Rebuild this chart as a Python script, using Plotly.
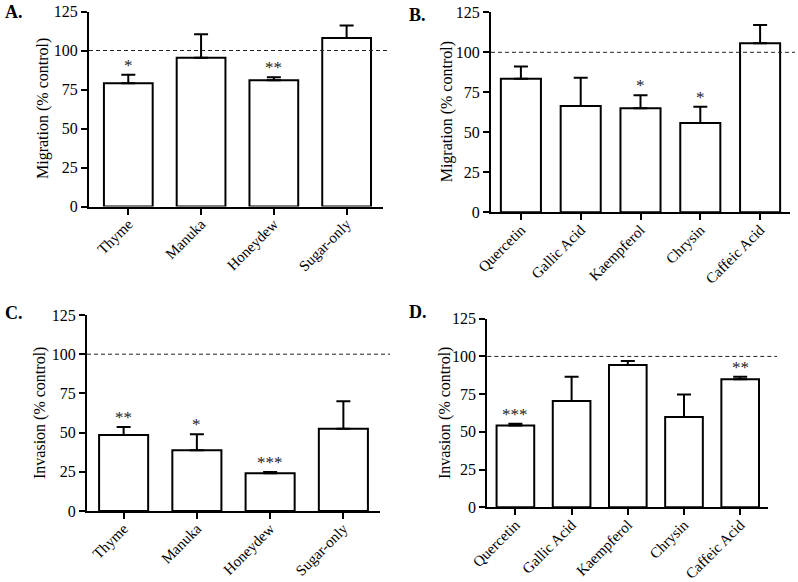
import plotly.graph_objects as go

# ---------------- data ----------------
honey_cats = ["Thyme", "Manuka", "Honeydew", "Sugar-only"]
phenol_cats = ["Quercetin", "Gallic Acid", "Kaempferol", "Chrysin", "Caffeic Acid"]

mig_honey = [79.0, 95.3, 80.9, 108.0]
mig_honey_err = [5.5, 15.1, 1.9, 8.1]
mig_honey_sig = ["*", "", "**", ""]

mig_phenol = [83.5, 66.4, 65.0, 55.8, 105.6]
mig_phenol_err = [7.7, 17.7, 8.1, 10.2, 11.4]
mig_phenol_sig = ["", "", "*", "*", ""]

inv_honey = [48.5, 38.7, 24.0, 52.5]
inv_honey_err = [5.1, 10.2, 0.9, 17.5]
inv_honey_sig = ["**", "*", "***", ""]

inv_phenol = [54.2, 70.5, 94.3, 59.9, 84.8]
inv_phenol_err = [1.1, 16.1, 2.6, 14.8, 1.8]
inv_phenol_sig = ["***", "", "", "", "**"]

control_level = 100
y_ticks = [0, 25, 50, 75, 100, 125]

W, H = 798, 582
FONT = "Liberation Serif, Times New Roman, serif"

panels = [
    dict(lab="A.", cats=honey_cats, vals=mig_honey, err=mig_honey_err, sig=mig_honey_sig,
         title="Migration (% control)", xdom=(89, 383), ydom=(206.5, 11.5), xr=(-0.54, 3.5),
         dash_end=390, lab_xy=(3, 12), title_x=43),
    dict(lab="B.", cats=phenol_cats, vals=mig_phenol, err=mig_phenol_err, sig=mig_phenol_sig,
         title="Migration (% control)", xdom=(491, 790), ydom=(212.3, 12.3), xr=(-0.5, 4.5),
         dash_end=795, lab_xy=(407, 15), title_x=447),
    dict(lab="C.", cats=honey_cats, vals=inv_honey, err=inv_honey_err, sig=inv_honey_sig,
         title="Invasion (% control)", xdom=(87, 380), ydom=(511, 315), xr=(-0.5, 3.5),
         dash_end=390, lab_xy=(3, 313), title_x=40),
    dict(lab="D.", cats=phenol_cats, vals=inv_phenol, err=inv_phenol_err, sig=inv_phenol_sig,
         title="Invasion (% control)", xdom=(487.3, 768.3), ydom=(507.3, 318.7), xr=(-0.5, 4.5),
         dash_end=777, lab_xy=(407, 312), title_x=445),
]


def px(x):
    return x / W


def py(y):
    return 1 - y / H


fig = go.Figure()
annotations = []
shapes = []
layout = {}

for i, p in enumerate(panels, start=1):
    xa = "x" if i == 1 else f"x{i}"
    ya = "y" if i == 1 else f"y{i}"
    xkey = "xaxis" if i == 1 else f"xaxis{i}"
    ykey = "yaxis" if i == 1 else f"yaxis{i}"
    fig.add_trace(go.Bar(
        x=p["cats"], y=p["vals"], xaxis=xa, yaxis=ya, width=0.67,
        marker=dict(color="white", line=dict(color="black", width=2)),
        error_y=dict(type="data", array=p["err"], arrayminus=[0] * len(p["err"]),
                     symmetric=False, color="black", thickness=2, width=7),
        showlegend=False, hoverinfo="x+y",
    ))
    x0, x1 = px(p["xdom"][0]), px(p["xdom"][1])
    y0, y1 = py(p["ydom"][0]), py(p["ydom"][1])
    layout[xkey] = dict(
        domain=[x0, x1], anchor=ya, range=list(p["xr"]), type="category",
        showline=True, linecolor="black", linewidth=2, ticks="outside",
        ticklen=6, tickwidth=2, tickcolor="black", tickangle=-45,
        ticklabelstandoff=-5,
        tickfont=dict(family=FONT, size=15, color="black"), showgrid=False,
        zeroline=False, fixedrange=True, automargin=False,
    )
    layout[ykey] = dict(
        domain=[y0, y1], anchor=xa, range=[0, 125], tickvals=y_ticks,
        showline=True, linecolor="black", linewidth=2, ticks="outside",
        ticklen=6, tickwidth=2, tickcolor="black",
        tickfont=dict(family=FONT, size=16, color="black"), showgrid=False,
        zeroline=False, fixedrange=True, automargin=False,
    )
    # y-axis title as rotated text
    annotations.append(dict(
        text=p["title"], xref="paper", yref="paper", x=px(p["title_x"]), y=(y0 + y1) / 2,
        textangle=-90, showarrow=False, xanchor="center", yanchor="middle",
        font=dict(family=FONT, size=16, color="black"),
    ))
    # panel label
    annotations.append(dict(
        text="<b>" + p["lab"] + "</b>", xref="paper", yref="paper",
        x=px(p["lab_xy"][0]), y=py(p["lab_xy"][1]), showarrow=False,
        xanchor="left", yanchor="middle",
        font=dict(family=FONT, size=18, color="black"),
    ))
    # significance stars
    for c, v, e, s in zip(p["cats"], p["vals"], p["err"], p["sig"]):
        if s:
            annotations.append(dict(
                text=s, xref=xa, yref=ya, x=c, y=v + e, showarrow=False,
                xanchor="center", yanchor="bottom", yshift=-2,
                font=dict(family=FONT, size=17, color="#222"),
            ))
    # dashed control line
    shapes.append(dict(
        type="line", xref="paper", yref=ya, x0=x0, x1=px(p["dash_end"]),
        y0=control_level, y1=control_level,
        line=dict(color="#222", width=1, dash="4px,3px"),
    ))

fig.update_layout(
    template="none",
    width=W, height=H, margin=dict(l=0, r=0, t=0, b=0, autoexpand=False),
    paper_bgcolor="white", plot_bgcolor="white",
    font=dict(family=FONT, color="black"),
    annotations=annotations, shapes=shapes, bargap=0.33,
    **layout,
)

# remove the default 8px page margin so the figure sits at the window's corner
fig.write_html("out.html", config={"displayModeBar": False},
               post_script="document.body.style.margin='0';")
